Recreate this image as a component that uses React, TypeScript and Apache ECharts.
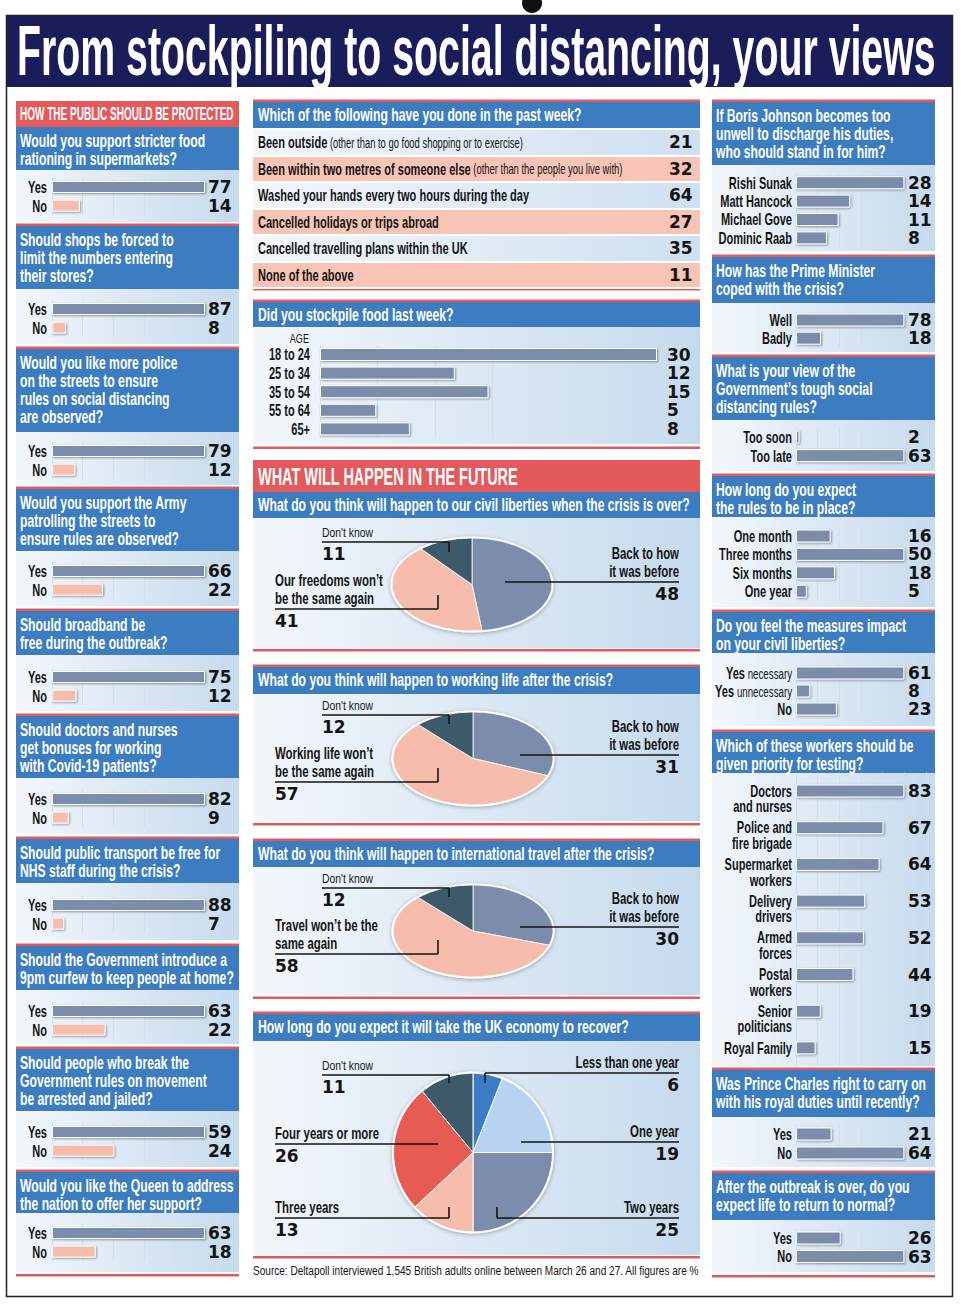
import React, { useEffect, useRef } from 'react';
import * as echarts from 'echarts';

/* ================= DATA ================= */
const titleText = 'From stockpiling to social distancing, your views';
const protectHeading = 'HOW THE PUBLIC SHOULD BE PROTECTED';
const futureHeading = 'WHAT WILL HAPPEN IN THE FUTURE';
const sourceNote = 'Source: Deltapoll interviewed 1,545 British adults online between March 26 and 27. All figures are %';

const yesNo = ['Yes', 'No'];
const publicQuestions = [
  'Would you support stricter food\nrationing in supermarkets?',
  'Should shops be forced to\nlimit the numbers entering\ntheir stores?',
  'Would you like more police\non the streets to ensure\nrules on social distancing\nare observed?',
  'Would you support the Army\npatrolling the streets to\nensure rules are observed?',
  'Should broadband be\nfree during the outbreak?',
  'Should doctors and nurses\nget bonuses for working\nwith Covid-19 patients?',
  'Should public transport be free for\nNHS staff during the crisis?',
  'Should the Government introduce a\n9pm curfew to keep people at home?',
  'Should people who break the\nGovernment rules on movement\nbe arrested and jailed?',
  'Would you like the Queen to address\nthe nation to offer her support?',
];
const publicYes = [77, 87, 79, 66, 75, 82, 88, 63, 59, 63];
const publicNo = [14, 8, 12, 22, 12, 9, 7, 22, 24, 18];

const pastWeekQuestion = 'Which of the following have you done in the past week?';
const pastWeekActions = [
  'Been outside',
  'Been within two metres of someone else',
  'Washed your hands every two hours during the day',
  'Cancelled holidays or trips abroad',
  'Cancelled travelling plans within the UK',
  'None of the above',
];
const pastWeekNotes = ['(other than to go food shopping or to exercise)', '(other than the people you live with)', '', '', '', ''];
const pastWeekValues = [21, 32, 64, 27, 35, 11];

const stockpileQuestion = 'Did you stockpile food last week?';
const stockpileAxisTitle = 'AGE';
const stockpileAges = ['18 to 24', '25 to 34', '35 to 54', '55 to 64', '65+'];
const stockpileValues = [30, 12, 15, 5, 8];

const civilQuestion = 'What do you think will happen to our civil liberties when the crisis is over?';
const civilLabels = ['Back to how\nit was before', 'Our freedoms won\u2019t\nbe the same again', "Don't know"];
const civilValues = [48, 41, 11];

const workQuestion = 'What do you think will happen to working life after the crisis?';
const workLabels = ['Back to how\nit was before', 'Working life won\u2019t\nbe the same again', "Don't know"];
const workValues = [31, 57, 12];

const travelQuestion = 'What do you think will happen to international travel after the crisis?';
const travelLabels = ['Back to how\nit was before', 'Travel won\u2019t be the\nsame again', "Don't know"];
const travelValues = [30, 58, 12];

const economyQuestion = 'How long do you expect it will take the UK economy to recover?';
const economyLabels = ['Less than one year', 'One year', 'Two years', 'Three years', 'Four years or more', "Don't know"];
const economyValues = [6, 19, 25, 13, 26, 11];

const standInQuestion = 'If Boris Johnson becomes too\nunwell to discharge his duties,\nwho should stand in for him?';
const standInNames = ['Rishi Sunak', 'Matt Hancock', 'Michael Gove', 'Dominic Raab'];
const standInValues = [28, 14, 11, 8];

const pmQuestion = 'How has the Prime Minister\ncoped with the crisis?';
const pmAnswers = ['Well', 'Badly'];
const pmValues = [78, 18];

const rulesViewQuestion = 'What is your view of the\nGovernment\u2019s tough social\ndistancing rules?';
const rulesViewAnswers = ['Too soon', 'Too late'];
const rulesViewValues = [2, 63];

const rulesLengthQuestion = 'How long do you expect\nthe rules to be in place?';
const rulesLengthAnswers = ['One month', 'Three months', 'Six months', 'One year'];
const rulesLengthValues = [16, 50, 18, 5];

const impactQuestion = 'Do you feel the measures impact\non your civil liberties?';
const impactAnswers = ['Yes necessary', 'Yes unnecessary', 'No'];
const impactValues = [61, 8, 23];

const testingQuestion = 'Which of these workers should be\ngiven priority for testing?';
const testingWorkers = ['Doctors\nand nurses', 'Police and\nfire brigade', 'Supermarket\nworkers', 'Delivery\ndrivers', 'Armed\nforces', 'Postal\nworkers', 'Senior\npoliticians', 'Royal Family'];
const testingValues = [83, 67, 64, 53, 52, 44, 19, 15];

const charlesQuestion = 'Was Prince Charles right to carry on\nwith his royal duties until recently?';
const charlesValues = [21, 64];

const normalQuestion = 'After the outbreak is over, do you\nexpect life to return to normal?';
const normalValues = [26, 63];

/* ================= LAYOUT / STYLE ================= */
const NAVY = '#1b1d5b';
const QBLUE = '#3c7dc1';
const RED = '#e35a5c';
const BAR = '#7b8dab';
const PEACH = '#f6bdac';
const DARK = '#3d5a6a';
const SKY = '#b6d4ef';
const BRIGHT = '#3a7cc5';
const CORAL = '#e65b52';
const INK = '#141414';
const GRIDLINE = '#d2deea';
const COND = '"Liberation Sans", Arial, sans-serif';
const NUM = '"DejaVu Sans", sans-serif';

const leftBlueTop = [127, 226, 349, 489, 611, 716, 839, 946, 1049, 1172];
const leftPanelTop = [170, 289, 432, 551, 655, 778, 883, 990, 1111, 1213];
const leftPanelBottom = [222, 344, 485, 606, 711, 834, 940, 1044, 1167, 1272];
const leftFirstRow = [187, 309, 451, 571, 677, 799, 905, 1011, 1132, 1233];

function buildOption() {
  const ctx = document.createElement('canvas').getContext('2d')!;
  const measure = (t: string, f: string) => {
    ctx.font = f;
    return ctx.measureText(t).width;
  };
  const fit = (t: string, f: string, target: number) => Math.min(1, target / measure(t, f));
  const Q = 18; // question font size
  const C = 17; // category font size
  const T = 70; // title font size
  const qScale = fit(civilQuestion, `bold ${Q}px ${COND}`, 432);
  const titleScale = fit(titleText, `bold ${T}px ${COND}`, 918);
  const protectScale = fit(protectHeading, `bold ${Q}px ${COND}`, 214);
  const futureScale = fit(futureHeading, `bold 24px ${COND}`, 260);
  const catScale = fit('Three months', `bold ${C}px ${COND}`, 73);
  const labelScale = fit('Our freedoms won\u2019t', `bold 17px ${COND}`, 108);
  const smallScale = fit("Don't know", `13.5px ${COND}`, 51);
  const sourceScale = fit(sourceNote, `13.5px ${COND}`, 447);

  const panelFill = () => ({
    type: 'linear', x: 0, y: 0, x2: 1, y2: 0,
    colorStops: [{ offset: 0, color: '#f3f7fb' }, { offset: 1, color: '#c6daee' }],
  });

  const g: any[] = [];
  const rect = (x: number, y: number, w: number, h: number, fill: any, z = 1) =>
    g.push({ type: 'rect', z, silent: true, shape: { x, y, width: w, height: h }, style: { fill } });
  const text = (x: number, y: number, str: string, style: any, scaleX = 1, z = 10) =>
    g.push({ type: 'text', z, silent: true, x, y, scaleX, style: { text: str, fill: INK, ...style } });
  const qText = (x: number, blueTop: number, str: string) =>
    text(x, blueTop + 5, str, { fill: '#fff', fontFamily: COND, fontWeight: 'bold', fontSize: Q, lineHeight: 18, verticalAlign: 'top', align: 'left' }, qScale);

  const catRich = {
    b: { fontFamily: COND, fontWeight: 'bold', fontSize: C, fill: INK },
    s: { fontFamily: COND, fontWeight: 'normal', fontSize: 15, fill: INK, padding: [3, 0, 0, 0] },
  };
  const catLabel = (xRight: number, y: number, c: string) => {
    if (c.startsWith('Yes ')) {
      text(xRight, y, `{b|Yes}{s|${c.slice(3)}}`, { align: 'right', verticalAlign: 'middle', rich: catRich }, catScale);
    } else if (c.includes('\n')) {
      text(xRight, y - 8, c, { fontFamily: COND, fontWeight: 'bold', fontSize: C, lineHeight: 15.5, align: 'right', verticalAlign: 'top' }, catScale);
    } else {
      text(xRight, y, c, { fontFamily: COND, fontWeight: 'bold', fontSize: C, align: 'right', verticalAlign: 'middle' }, catScale);
    }
  };

  /* frame + title */
  g.push({ type: 'ellipse', z: 1, silent: true, shape: { cx: 532, cy: 3, rx: 10, ry: 10 }, style: { fill: '#111' } });
  rect(6, 15, 947, 72, NAVY);
  g.push({ type: 'rect', z: 9, silent: true, shape: { x: 6.5, y: 15.5, width: 946, height: 1281 }, style: { fill: 'none', stroke: '#222', lineWidth: 1.5 } });
  text(17, 51, titleText, { fill: '#fff', fontFamily: COND, fontWeight: 'bold', fontSize: T, verticalAlign: 'middle', align: 'left' }, titleScale);

  const grids: any[] = [];
  const xAxes: any[] = [];
  const yAxes: any[] = [];
  const series: any[] = [];

  const addBars = (o: {
    left: number; width: number; first: number; step: number; cats: string[]; vals: number[]; colors: string[];
    maxScale: number; splitCount: number; valueX: number; labelRight: number; barWidth: number;
  }) => {
    const gi = grids.length;
    const n = o.cats.length;
    grids.push({ left: o.left, top: o.first - o.step / 2, width: o.width, height: o.step * n, containLabel: false });
    const max = Math.max(...o.vals) * o.maxScale;
    xAxes.push({
      type: 'value', gridIndex: gi, min: 0, max, interval: max / o.splitCount, z: 3,
      axisLabel: { show: false }, axisLine: { show: false }, axisTick: { show: false },
      splitLine: { show: true, lineStyle: { color: GRIDLINE, width: 1 } },
    });
    const yi = yAxes.length;
    yAxes.push({
      type: 'category', gridIndex: gi, inverse: true, data: o.cats, position: 'left', z: 3,
      axisLine: { show: false }, axisTick: { show: false }, splitLine: { show: false }, axisLabel: { show: false },
    });
    yAxes.push({
      type: 'category', gridIndex: gi, inverse: true, data: o.cats, position: 'right', z: 3,
      offset: o.valueX - (o.left + o.width),
      axisLine: { show: false }, axisTick: { show: false }, splitLine: { show: false },
      axisLabel: {
        interval: 0, margin: 0, align: 'left', color: INK, fontFamily: NUM, fontWeight: 'bold', fontSize: 17,
        formatter: (_v: string, i: number) => String(o.vals[i]),
      },
    });
    series.push({
      type: 'bar', xAxisIndex: gi, yAxisIndex: yi, z: 4, silent: true, barWidth: o.barWidth,
      data: o.vals.map((v, i) => ({ value: v, itemStyle: { color: o.colors[i % o.colors.length] } })),
      itemStyle: { borderColor: '#fff', borderWidth: 1, shadowColor: 'rgba(30,40,60,0.45)', shadowBlur: 2, shadowOffsetX: 1, shadowOffsetY: 1 },
    });
    o.cats.forEach((c, i) => catLabel(o.labelRight, o.first + i * o.step, c));
  };

  /* ---------- LEFT COLUMN ---------- */
  const LX = 16, LW = 223;
  rect(LX, 101, LW, 26, RED);
  text(20, 114, protectHeading, { fill: '#fff', fontFamily: COND, fontWeight: 'bold', fontSize: Q, verticalAlign: 'middle', align: 'left' }, protectScale);
  publicQuestions.forEach((q, i) => {
    if (i > 0) rect(LX, leftBlueTop[i] - 2.5, LW, 2.5, RED);
    rect(LX, leftBlueTop[i], LW, leftPanelTop[i] - leftBlueTop[i], QBLUE);
    rect(LX, leftPanelTop[i], LW, leftPanelBottom[i] - leftPanelTop[i], panelFill());
    qText(20, leftBlueTop[i], q);
    addBars({
      left: 52, width: 153, first: leftFirstRow[i], step: 18.6, cats: yesNo, vals: [publicYes[i], publicNo[i]],
      colors: [BAR, PEACH], maxScale: 1, splitCount: 5, valueX: 208, labelRight: 47, barWidth: 12,
    });
  });
  rect(LX, 1274, LW, 2.5, RED);

  /* ---------- RIGHT COLUMN ---------- */
  const RX = 712, RW = 223;
  const rightBlocks = [
    { q: standInQuestion, cats: standInNames, vals: standInValues, blue: 102, panel: 165, bottom: 251, first: 182.7, step: 18.4 },
    { q: pmQuestion, cats: pmAnswers, vals: pmValues, blue: 257, panel: 303, bottom: 352, first: 320, step: 18.2 },
    { q: rulesViewQuestion, cats: rulesViewAnswers, vals: rulesViewValues, blue: 357, panel: 420, bottom: 471, first: 437, step: 18.6 },
    { q: rulesLengthQuestion, cats: rulesLengthAnswers, vals: rulesLengthValues, blue: 476, panel: 517, bottom: 607, first: 536, step: 18.4 },
    { q: impactQuestion, cats: impactAnswers, vals: impactValues, blue: 612, panel: 653, bottom: 726, first: 673, step: 18 },
    { q: testingQuestion, cats: testingWorkers, vals: testingValues, blue: 732, panel: 773, bottom: 1066, first: 791, step: 36.7 },
    { q: charlesQuestion, cats: yesNo, vals: charlesValues, blue: 1070, panel: 1117, bottom: 1167, first: 1134, step: 19 },
    { q: normalQuestion, cats: yesNo, vals: normalValues, blue: 1173, panel: 1220, bottom: 1272, first: 1238, step: 18.5 },
  ];
  rightBlocks.forEach((b) => {
    rect(RX, b.blue - 2.5, RW, 2.5, RED);
    rect(RX, b.blue, RW, b.panel - b.blue, QBLUE);
    rect(RX, b.panel, RW, b.bottom - b.panel, panelFill());
    qText(716, b.blue, b.q);
    addBars({
      left: 796, width: 130, first: b.first, step: b.step, cats: b.cats, vals: b.vals, colors: [BAR],
      maxScale: 1.2, splitCount: 6, valueX: 908, labelRight: 792, barWidth: 13,
    });
  });
  rect(RX, 1275, RW, 2.5, RED);

  /* ---------- MIDDLE COLUMN ---------- */
  const MX = 253, MW = 447;
  const midHeader = (blueTop: number, blueBottom: number, q: string, redLine = true) => {
    if (redLine) rect(MX, blueTop - 2.5, MW, 2.5, RED);
    rect(MX, blueTop, MW, blueBottom - blueTop, QBLUE);
    qText(258, blueTop - 1, q);
  };

  // past week table
  midHeader(102, 129, pastWeekQuestion);
  {
    const gi = grids.length;
    const top = 129, height = 159;
    grids.push({ left: MX, top, width: MW, height, containLabel: false });
    xAxes.push({ type: 'value', gridIndex: gi, show: false, min: 0, max: 1 });
    yAxes.push({
      type: 'category', gridIndex: gi, inverse: true, data: pastWeekActions, position: 'left', z: 3,
      axisLine: { show: false }, axisTick: { show: false }, axisLabel: { show: false },
      splitLine: { show: true, lineStyle: { color: '#ffffff', width: 2 } },
      splitArea: {
        show: true,
        areaStyle: {
          color: [
            { type: 'linear', x: 0, y: 0, x2: 1, y2: 0, colorStops: [{ offset: 0, color: '#f3f7fb' }, { offset: 1, color: '#cfe0f1' }] },
            '#f7c4b5',
          ],
        },
      },
    });
    yAxes.push({
      type: 'category', gridIndex: gi, inverse: true, data: pastWeekActions, position: 'right', z: 3, offset: -31,
      axisLine: { show: false }, axisTick: { show: false }, splitLine: { show: false },
      axisLabel: {
        interval: 0, margin: 0, align: 'left', color: INK, fontFamily: NUM, fontWeight: 'bold', fontSize: 17,
        formatter: (_v: string, i: number) => String(pastWeekValues[i]),
      },
    });
    const rowH = height / pastWeekActions.length;
    pastWeekActions.forEach((a, i) => {
      const str = `{b|${a}}` + (pastWeekNotes[i] ? `{s| ${pastWeekNotes[i]}}` : '');
      text(258, top + rowH * (i + 0.5), str, {
        align: 'left', verticalAlign: 'middle',
        rich: {
          b: { fontFamily: COND, fontWeight: 'bold', fontSize: C, fill: INK },
          s: { fontFamily: COND, fontWeight: 'normal', fontSize: 14.5, fill: INK, padding: [2, 0, 0, 0] },
        },
      }, catScale);
    });
  }
  rect(MX, 288, MW, 2.5, RED);

  // stockpile
  midHeader(302, 327, stockpileQuestion);
  rect(MX, 327, MW, 117, panelFill());
  text(309, 338, stockpileAxisTitle, { fontFamily: COND, fontSize: 13, align: 'right', verticalAlign: 'middle' }, catScale + 0.05);
  addBars({
    left: 320, width: 345, first: 354.5, step: 18.6, cats: stockpileAges, vals: stockpileValues, colors: [BAR],
    maxScale: 345 / 337, splitCount: 6, valueX: 667, labelRight: 310, barWidth: 13,
  });
  rect(MX, 446.5, MW, 2.5, RED);

  // future heading
  rect(MX, 460, MW, 32, RED);
  text(258, 477, futureHeading, { fill: '#fff', fontFamily: COND, fontWeight: 'bold', fontSize: 24, verticalAlign: 'middle', align: 'left' }, futureScale);

  type PieLabel = { idx: number; side: 'left' | 'right'; x0: number; x1: number; lineY: number; tick?: [number, number]; small?: boolean };
  const addPieLabels = (labels: string[], values: number[], specs: PieLabel[]) => {
    specs.forEach((s) => {
      const tx = s.side === 'left' ? s.x0 : s.x1;
      text(tx, s.lineY - 2, labels[s.idx], {
        fontFamily: COND, fontWeight: s.small ? 'normal' : 'bold', fontSize: s.small ? 13.5 : 17, lineHeight: s.small ? 15 : 18,
        align: s.side, verticalAlign: 'bottom',
      }, s.small ? smallScale : labelScale);
      g.push({ type: 'line', z: 10, silent: true, shape: { x1: s.x0, y1: s.lineY, x2: s.x1, y2: s.lineY }, style: { stroke: INK, lineWidth: 1.6 } });
      if (s.tick) g.push({ type: 'line', z: 10, silent: true, shape: { x1: s.tick[0], y1: s.lineY, x2: s.tick[0], y2: s.tick[1] }, style: { stroke: INK, lineWidth: 1.6 } });
      text(tx, s.lineY + 12, String(values[s.idx]), { fontFamily: NUM, fontWeight: 'bold', fontSize: 17, align: s.side, verticalAlign: 'middle' });
    });
  };

  const addPie = (values: number[], colors: string[], cx: number, cy: number, rx: number, ry: number) => {
    g.push({ type: 'ellipse', z: 2, silent: true, shape: { cx, cy, rx: rx + 1.5, ry: ry + 1.5 }, style: { fill: '#ffffff', shadowBlur: 4, shadowColor: 'rgba(0,0,0,0.3)', shadowOffsetY: 1 } });
    const total = values.reduce((a, b) => a + b, 0);
    const starts: number[] = [];
    let acc = 0;
    values.forEach((v) => { starts.push(acc); acc += v; });
    series.push({
      type: 'custom', coordinateSystem: 'none', z: 4, silent: true,
      data: values.map((v, i) => [v, i]),
      renderItem: (params: any, api: any) => {
        const i = params.dataIndex;
        const v = api.value(0);
        const a0 = -Math.PI / 2 + (starts[i] / total) * Math.PI * 2;
        const a1 = a0 + (v / total) * Math.PI * 2;
        return {
          type: 'group', x: cx, y: cy, scaleY: ry / rx,
          children: [{
            type: 'sector',
            shape: { cx: 0, cy: 0, r: rx, r0: 0, startAngle: a0, endAngle: a1, clockwise: true },
            style: { fill: colors[i], stroke: '#ffffff', lineWidth: 1, strokeNoScale: true },
          }],
        };
      },
    });
  };

  // civil liberties
  midHeader(492, 518, civilQuestion, false);
  rect(MX, 518, MW, 130, panelFill());
  addPie(civilValues, [BAR, PEACH, DARK], 472, 584.5, 80, 46.5);
  addPieLabels(civilLabels, civilValues, [
    { idx: 0, side: 'right', x0: 505, x1: 679, lineY: 582 },
    { idx: 1, side: 'left', x0: 275, x1: 438, lineY: 609, tick: [438, 595] },
    { idx: 2, side: 'left', x0: 322, x1: 449, lineY: 542, tick: [449, 552], small: true },
  ]);
  rect(MX, 649, MW, 2.5, RED);

  // working life
  midHeader(667, 694, workQuestion);
  rect(MX, 694, MW, 127, panelFill());
  addPie(workValues, [BAR, PEACH, DARK], 473, 758.5, 80, 46.5);
  addPieLabels(workLabels, workValues, [
    { idx: 0, side: 'right', x0: 520, x1: 679, lineY: 755 },
    { idx: 1, side: 'left', x0: 275, x1: 438, lineY: 782, tick: [438, 768] },
    { idx: 2, side: 'left', x0: 322, x1: 449, lineY: 715, tick: [449, 724], small: true },
  ]);
  rect(MX, 823, MW, 2.5, RED);

  // travel
  midHeader(841, 867, travelQuestion);
  rect(MX, 867, MW, 128, panelFill());
  addPie(travelValues, [BAR, PEACH, DARK], 473, 931, 80, 46);
  addPieLabels(travelLabels, travelValues, [
    { idx: 0, side: 'right', x0: 520, x1: 679, lineY: 927 },
    { idx: 1, side: 'left', x0: 275, x1: 438, lineY: 954, tick: [438, 940] },
    { idx: 2, side: 'left', x0: 322, x1: 449, lineY: 888, tick: [449, 897], small: true },
  ]);
  rect(MX, 996.5, MW, 2.5, RED);

  // economy
  midHeader(1014, 1041, economyQuestion);
  rect(MX, 1041, MW, 214, panelFill());
  addPie(economyValues, [BRIGHT, SKY, BAR, PEACH, CORAL, DARK], 473, 1152.5, 79.5, 79.5);
  addPieLabels(economyLabels, economyValues, [
    { idx: 0, side: 'right', x0: 485, x1: 679, lineY: 1073, tick: [485, 1083] },
    { idx: 1, side: 'right', x0: 521, x1: 679, lineY: 1142 },
    { idx: 2, side: 'right', x0: 497, x1: 679, lineY: 1218, tick: [497, 1207] },
    { idx: 3, side: 'left', x0: 275, x1: 449, lineY: 1218, tick: [449, 1207] },
    { idx: 4, side: 'left', x0: 275, x1: 438, lineY: 1144 },
    { idx: 5, side: 'left', x0: 322, x1: 449, lineY: 1075, tick: [449, 1083], small: true },
  ]);
  rect(MX, 1256, MW, 2.5, RED);
  text(253, 1270, sourceNote, { fontFamily: COND, fontSize: 13.5, align: 'left', verticalAlign: 'middle' }, sourceScale);

  return {
    animation: false,
    backgroundColor: '#ffffff',
    grid: grids,
    xAxis: xAxes,
    yAxis: yAxes,
    series,
    graphic: { elements: g },
  };
}

export default function App() {
  const ref = useRef<HTMLDivElement>(null);
  useEffect(() => {
    if (!ref.current) return;
    const chart = echarts.init(ref.current, undefined, { renderer: 'svg' });
    chart.setOption(buildOption() as any);
    return () => chart.dispose();
  }, []);
  return <div ref={ref} style={{ position: 'absolute', left: 0, top: 0, width: 961, height: 1305, background: '#fff' }} />;
}
